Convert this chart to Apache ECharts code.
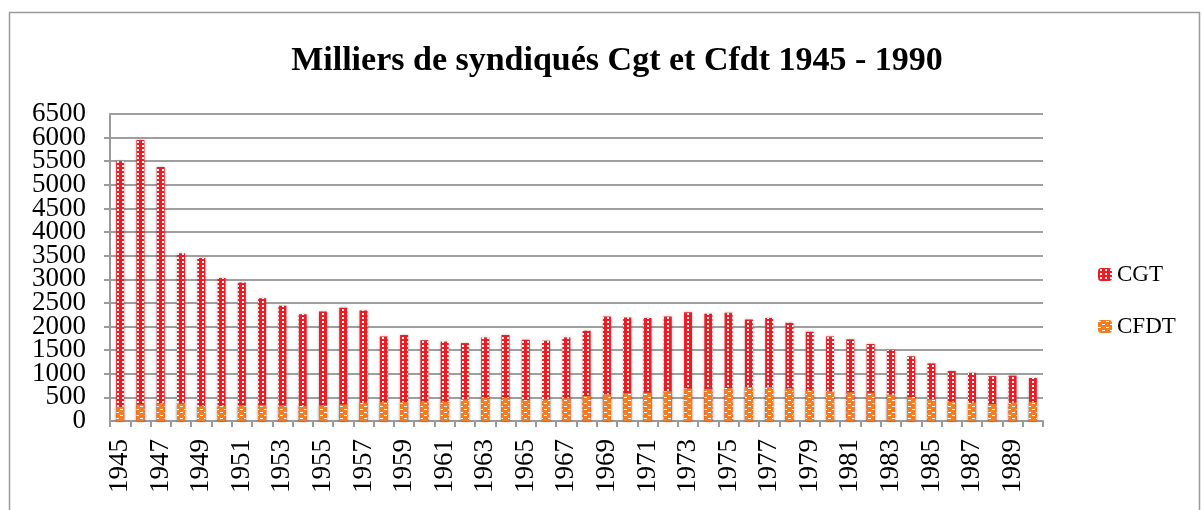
<!DOCTYPE html>
<html>
<head>
<meta charset="utf-8">
<script src="https://cdn.jsdelivr.net/npm/echarts@6/dist/echarts.min.js"></script>
<style>
html, body { margin: 0; padding: 0; background: #fff; }
#main { width: 1204px; height: 510px; }
</style>
</head>
<body>
<div id="main"></div>
<script>
var years = ['1945','1946','1947','1948','1949','1950','1951','1952','1953','1954',
    '1955','1956','1957','1958','1959','1960','1961','1962','1963','1964',
    '1965','1966','1967','1968','1969','1970','1971','1972','1973','1974',
    '1975','1976','1977','1978','1979','1980','1981','1982','1983','1984',
    '1985','1986','1987','1988','1989','1990'];

var cgt = [5500,5950,5380,3550,3450,3030,2930,2600,2440,2260,
    2320,2400,2340,1790,1820,1710,1680,1650,1770,1820,
    1720,1700,1770,1910,2210,2190,2180,2210,2300,2270,
    2290,2150,2180,2080,1890,1790,1730,1630,1500,1370,
    1220,1060,1020,950,960,910];

var cfdt = [300,350,370,370,320,320,330,340,330,320,
    330,350,390,400,400,410,410,460,490,490,
    450,460,480,530,560,590,600,630,690,680,
    700,720,720,690,650,630,610,600,560,510,
    460,410,390,360,390,400];

var yTicks = { min: 0, max: 6500, step: 500 };

// motifs des barres (comme dans Excel)
function makePattern(bg, draw, w, h) {
    var c = document.createElement('canvas');
    c.width = w; c.height = h;
    var ctx = c.getContext('2d');
    ctx.fillStyle = bg;
    ctx.fillRect(0, 0, w, h);
    ctx.fillStyle = '#ffffff';
    draw(ctx);
    return { image: c, repeat: 'repeat' };
}
var redPattern = makePattern('#ED1C24', function (ctx) {
    ctx.fillRect(2, 1, 2, 2);
}, 5, 4);
var orangePattern = makePattern('#F37E21', function (ctx) {
    ctx.fillRect(0, 1, 3, 1);
    ctx.fillRect(4, 4, 3, 1);
}, 8, 6);

var dom = document.getElementById('main');
var myChart = echarts.init(dom);
var serif = '"Liberation Serif", "DejaVu Serif", serif';
var labelStyle = {
    margin: 24,
    formatter: function (v) { return String(v); },
    fontFamily: serif,
    fontSize: 27,
    color: '#000'
};

var option = {
    backgroundColor: '#ffffff',
    animation: false,
    graphic: [{
        type: 'rect',
        shape: { x: 9.5, y: 12.5, width: 1190, height: 520 },
        style: { fill: 'none', stroke: '#9a9a9a', lineWidth: 1.5 },
        silent: true
    }],
    title: {
        text: 'Milliers de syndiqués Cgt et Cfdt 1945 - 1990',
        left: 612,
        top: 39,
        textAlign: 'center',
        textStyle: {
            fontFamily: serif,
            fontSize: 34,
            fontWeight: 'bold',
            color: '#000'
        }
    },
    legend: {
        orient: 'vertical',
        left: 1093,
        top: 258,
        itemWidth: 14,
        itemHeight: 13,
        itemGap: 29,
        data: ['CGT', 'CFDT'],
        textStyle: { fontFamily: serif, fontSize: 23, color: '#000' }
    },
    grid: { left: 110, right: 161, top: 114, bottom: 89, containLabel: false },
    xAxis: {
        type: 'category',
        data: years,
        axisLine: { lineStyle: { color: '#9a9a9a', width: 2 } },
        axisTick: { show: true, interval: 0, length: 6, lineStyle: { color: '#9a9a9a', width: 2 } },
        axisLabel: {
            interval: 1,
            rotate: 90,
            margin: 18,
            fontFamily: serif,
            fontSize: 27,
            color: '#000'
        }
    },
    yAxis: [
        {
            type: 'value',
            min: yTicks.min,
            max: yTicks.max,
            interval: yTicks.step,
            axisLine: { show: true, lineStyle: { color: '#9a9a9a', width: 2 } },
            axisTick: { show: true, length: 6, lineStyle: { color: '#9a9a9a', width: 2 } },
            axisLabel: Object.assign({ showMinLabel: false, showMaxLabel: false }, labelStyle),
            splitLine: { lineStyle: { color: '#9f9f9f', width: 2 } }
        },
        {
            // seulement 0 et 6500
            type: 'value',
            position: 'left',
            min: yTicks.min,
            max: yTicks.max,
            interval: yTicks.max,
            axisLine: { show: false },
            axisTick: { show: false },
            splitLine: { show: false },
            axisLabel: Object.assign({ showMinLabel: true, showMaxLabel: true }, labelStyle)
        }
    ],
    series: [
        {
            name: 'CGT',
            type: 'bar',
            data: cgt,
            barWidth: 8,
            barGap: '-100%',
            itemStyle: {
                color: redPattern,
                shadowBlur: 3,
                shadowColor: 'rgba(0,0,0,0.25)'
            }
        },
        {
            name: 'CFDT',
            type: 'bar',
            data: cfdt,
            barWidth: 8,
            barGap: '-100%',
            itemStyle: {
                color: orangePattern,
                shadowBlur: 3,
                shadowColor: 'rgba(0,0,0,0.25)'
            }
        }
    ]
};

if (option && typeof option === "object") {
    myChart.setOption(option, true);
}
</script>
</body>
</html>
